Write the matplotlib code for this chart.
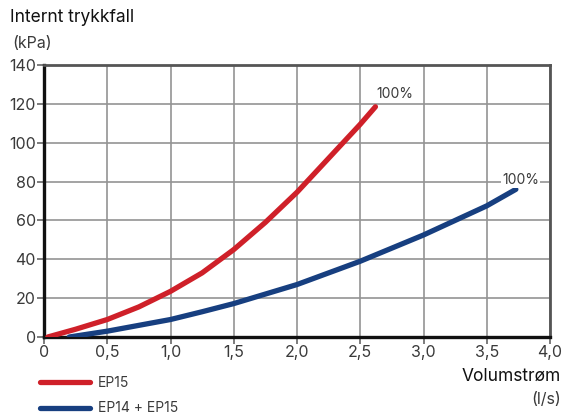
import numpy as np
import matplotlib.pyplot as plt
from matplotlib.lines import Line2D
from matplotlib.ticker import FuncFormatter

plt.rcParams['font.family'] = ['Inter', 'DejaVu Sans']

# EP15 curve (l/s, kPa)
ep15_flow = [0.03, 0.25, 0.5, 0.75, 1.0, 1.25, 1.5, 1.75, 2.0, 2.25, 2.5, 2.62]
ep15_dp = [0, 4, 9, 15.5, 23.5, 33, 45, 59, 74.5, 92, 109.5, 118.5]

# EP14 + EP15 curve
ep1415_flow = [0.2, 0.5, 0.75, 1.0, 1.25, 1.5, 2.0, 2.5, 3.0, 3.5, 3.73]
ep1415_dp = [0, 3, 6, 9, 13, 17.2, 27, 39, 52.5, 67.5, 76]

series_labels = ["EP15", "EP14 + EP15"]
end_label = "100%"

red = '#cf2029'
blue = '#173f80'
txt = '#3a3a3a'

fig = plt.figure(figsize=(5.64, 4.16), dpi=100)
ax = fig.add_axes([44 / 564, 1 - 337 / 416, 506 / 564, 272 / 416])

ax.plot(ep15_flow, ep15_dp, color=red, lw=3.8, solid_capstyle='round',
        solid_joinstyle='round', zorder=3)
ax.plot(ep1415_flow, ep1415_dp, color=blue, lw=3.8, solid_capstyle='round',
        solid_joinstyle='round', zorder=3)

bbox = dict(boxstyle='square,pad=0.1', fc='white', ec='none')
ax.annotate(end_label, (ep15_flow[-1], ep15_dp[-1]), xytext=(1, 9),
            textcoords='offset points', fontsize=10, color=txt, bbox=bbox,
            ha='left', va='center', zorder=4)
ax.annotate(end_label, (ep1415_flow[-1], ep1415_dp[-1]), xytext=(-10, 7),
            textcoords='offset points', fontsize=10, color=txt, bbox=bbox,
            ha='left', va='center', zorder=4)

ax.set_xlim(0, 4)
ax.set_ylim(0, 140)
ax.set_xticks(np.arange(0, 4.01, 0.5))
ax.set_yticks(np.arange(0, 141, 20))
ax.xaxis.set_major_formatter(FuncFormatter(
    lambda v, p: "0" if v == 0 else f"{v:.1f}".replace('.', ',')))
ax.grid(True, color='#939393', lw=1.2, zorder=1)
ax.tick_params(axis='both', direction='out', length=5, width=1.2,
               color='#666666', labelsize=11.5, labelcolor=txt, pad=1)

for side in ['left', 'bottom']:
    ax.spines[side].set_color('#111111')
    ax.spines[side].set_linewidth(2.4)
for side in ['top', 'right']:
    ax.spines[side].set_color('#555555')
    ax.spines[side].set_linewidth(2.0)

fig.text(10 / 564, 1 - 18 / 416, "Internt trykkfall", fontsize=12.5,
         color='#111111', va='center', ha='left')
fig.text(12 / 564, 1 - 43 / 416, "(kPa)", fontsize=11.5, color=txt,
         va='center', ha='left')
fig.text(561 / 564, 1 - 376 / 416, "Volumstrøm", fontsize=12.5,
         color='#111111', va='center', ha='right')
fig.text(561 / 564, 1 - 400 / 416, "(l/s)", fontsize=11.5, color=txt,
         va='center', ha='right')

handles = [Line2D([], [], color=red, lw=3.8, solid_capstyle='round'),
           Line2D([], [], color=blue, lw=3.8, solid_capstyle='round')]
fig.legend(handles, series_labels, loc='upper left',
           bbox_to_anchor=(34 / 564, 1 - 370 / 416), frameon=False,
           fontsize=10, handlelength=3.6, handletextpad=0.6,
           labelspacing=0.85, labelcolor=txt, borderaxespad=0)

fig.savefig('out.png', dpi=100)
